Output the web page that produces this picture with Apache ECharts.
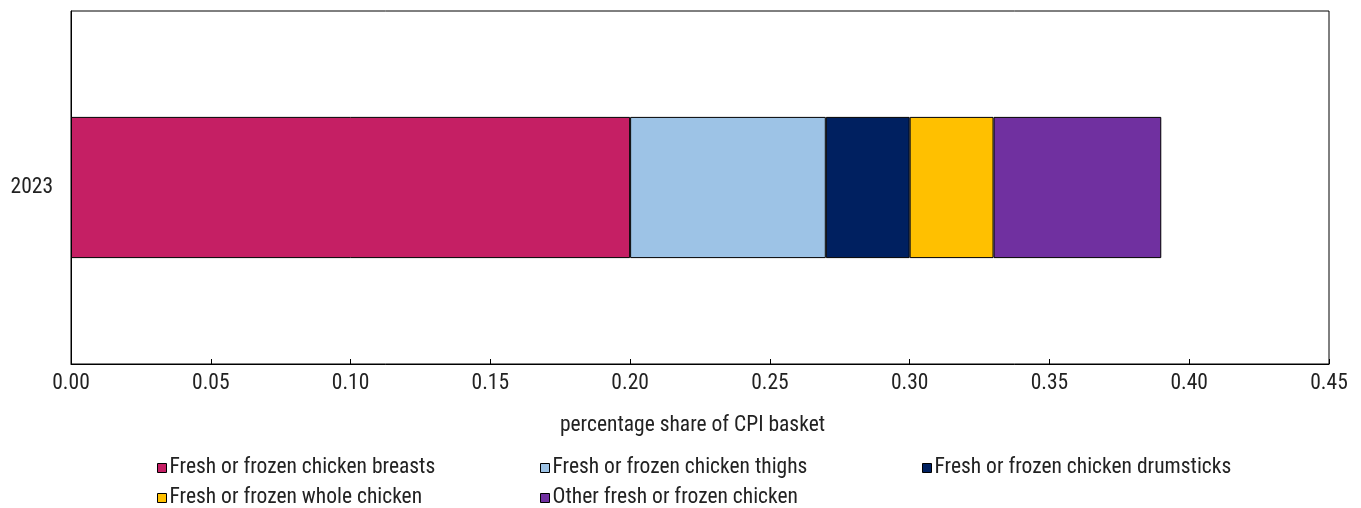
<!DOCTYPE html>
<html><head><meta charset="utf-8">
<script src="https://cdn.jsdelivr.net/npm/echarts@6/dist/echarts.min.js"></script>
<style>html,body{margin:0;padding:0;background:#fff}#c{width:1361px;height:508px}</style>
</head><body><div id="c"></div>
<script>
const categories = ['2023'];
const seriesNames = ['Fresh or frozen chicken breasts','Fresh or frozen chicken thighs','Fresh or frozen chicken drumsticks','Fresh or frozen whole chicken','Other fresh or frozen chicken'];
const breasts = [0.20];
const thighs = [0.07];
const drumsticks = [0.03];
const whole = [0.03];
const other = [0.06];
const colors = ['#C51F64','#9DC3E6','#002060','#FFC000','#7030A0'];
const values = [breasts, thighs, drumsticks, whole, other];
const FONT = '"Liberation Sans Narrow", "Roboto Condensed", Roboto, sans-serif';

const chart = echarts.init(document.getElementById('c'), null, {renderer:'canvas'});
const legendPos = [[152,452],[535,452],[917,452],[152,482],[535,482]];
const legends = seriesNames.map((n,i)=>({
  data:[n], left:legendPos[i][0], top:legendPos[i][1],
  orient:'horizontal', itemWidth:9, itemHeight:9, icon:'rect',
  textStyle:{fontFamily:FONT, fontSize:21.5, color:'#222', padding:[0,0,0,-2]},
  itemStyle:{borderColor:'#000', borderWidth:1},
  selectedMode:false
}));
chart.setOption({
  animation:false,
  grid:{left:71, right:32, top:11, bottom:144, show:true, borderColor:'#000', borderWidth:1, containLabel:false},
  legend:legends,
  xAxis:{type:'value', min:0, max:0.45, interval:0.05,
    name:'percentage share of CPI basket', nameLocation:'middle', nameGap:51,
    nameTextStyle:{fontFamily:FONT, fontSize:21.5, color:'#222', padding:[0,15,0,0]},
    axisLine:{show:true, lineStyle:{color:'#000', width:1}},
    axisTick:{show:true, inside:true, length:5, lineStyle:{color:'#000'}},
    axisLabel:{fontFamily:FONT, fontSize:21.5, color:'#222', margin:9, formatter:v=>v.toFixed(2)},
    splitLine:{show:false}},
  yAxis:{type:'category', data:categories,
    axisLine:{show:true, lineStyle:{color:'#000'}},
    axisTick:{show:false},
    axisLabel:{fontFamily:FONT, fontSize:21.5, color:'#222', margin:18}},
  series: seriesNames.map((n,i)=>({
    name:n, type:'bar', stack:'total', barWidth:'40%',
    data: values[i],
    itemStyle:{color:colors[i], borderColor:'#000', borderWidth:1}
  }))
});
</script></body></html>
